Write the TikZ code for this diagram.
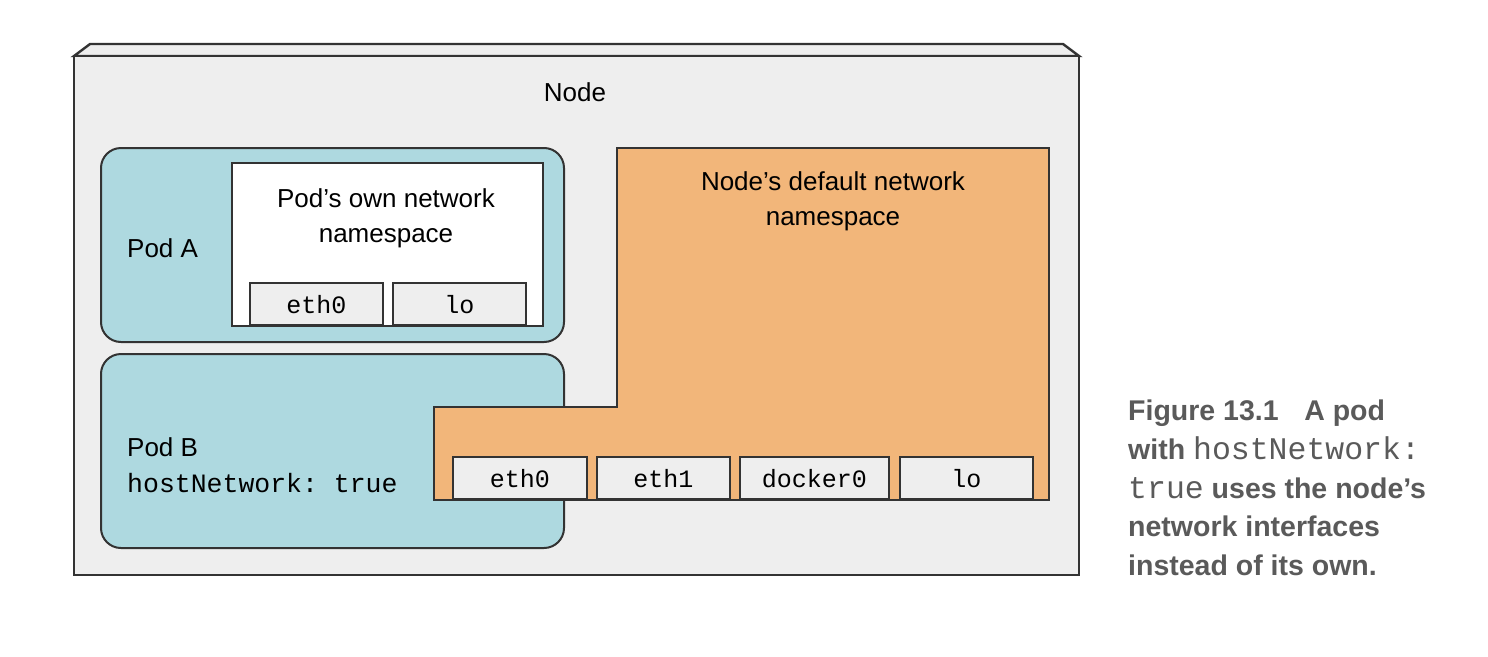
\documentclass[tikz,border=0pt]{standalone}
\usepackage{fontspec}
\setmainfont{Liberation Sans}
\setmonofont{Liberation Mono}
\definecolor{nodegray}{HTML}{EEEEEE}
\definecolor{podblue}{HTML}{AED9E0}
\definecolor{nsorange}{HTML}{F2B67A}
\definecolor{edge}{HTML}{333333}
\definecolor{captiongray}{HTML}{5A5A5A}
\tikzset{
  frame/.style={draw=edge, line width=2pt, line join=miter},
  podbox/.style={frame, fill=podblue, rounded corners=20pt},
  iface/.style={draw=edge, line width=1.8pt, fill=nodegray, inner sep=0pt,
    minimum height=42pt, text height=19.5pt, text depth=0pt,
    font=\fontsize{25}{30}\ttfamily},
  lbl/.style={font=\fontsize{26}{35}\selectfont, inner sep=0pt},
}
\begin{document}
\begin{tikzpicture}[x=1pt,y=-1pt]
\useasboundingbox (0,0) rectangle (1488,656);
% Node box (3D)
\draw[frame, fill=nodegray, line width=2.4pt] (74,56) -- (90,44) -- (1063,44) -- (1079,56) -- cycle;
\draw[frame, fill=nodegray, line width=2.4pt] (74,56) rectangle (1079,575);
\node[lbl, anchor=base] (nodelbl) at (575,101) {Node};
% Pod A
\draw[podbox] (101,148) rectangle (564,342);
\draw[frame, fill=white] (232,163) rectangle (543,326);
\node[lbl, anchor=base, align=center] (podns) at (386,242) {Pod’s own network\\namespace};
\node[lbl, anchor=base west] (poda) at (127,257) {Pod A};
\node[iface, minimum width=133pt, anchor=south west] (aeth0) at (249,326) {eth0};
\node[iface, minimum width=133pt, anchor=south west] (alo) at (392,326) {lo};
% Pod B
\draw[podbox] (101,354) rectangle (564,548);
\node[lbl, anchor=base west] (podb) at (127,456) {Pod B};
\node[anchor=base west, inner sep=0pt, font=\fontsize{26.5}{30}\ttfamily] (hostnet) at (127,492) {hostNetwork: true};
% Node's default namespace
\draw[frame, fill=nsorange] (617,148) -- (1049,148) -- (1049,500) -- (434,500) -- (434,407) -- (617,407) -- cycle;
\node[lbl, anchor=base, align=center] (nodens) at (833,225) {Node’s default network\\namespace};
\node[iface, minimum width=134pt, anchor=south west] (eth0) at (452,500) {eth0};
\node[iface, minimum width=133pt, anchor=south west] (eth1) at (596,500) {eth1};
\node[iface, minimum width=149pt, anchor=south west] (docker) at (739,500) {docker0};
\node[iface, minimum width=133pt, anchor=south west] (lo) at (899,500) {lo};
% Caption
\node[anchor=north west, align=left, inner sep=0pt, text=captiongray,
  font=\fontsize{28.5}{38.7}\selectfont\bfseries] (caption) at (1128,400)
  {Figure 13.1\hspace{0.9em}A pod\\
   with {\fontsize{31.5}{38.7}\selectfont\ttfamily\mdseries hostNetwork:}\\
   {\fontsize{31.5}{38.7}\selectfont\ttfamily\mdseries true} uses the node’s\\
   network interfaces\\
   instead of its own.};
\end{tikzpicture}
\end{document}
